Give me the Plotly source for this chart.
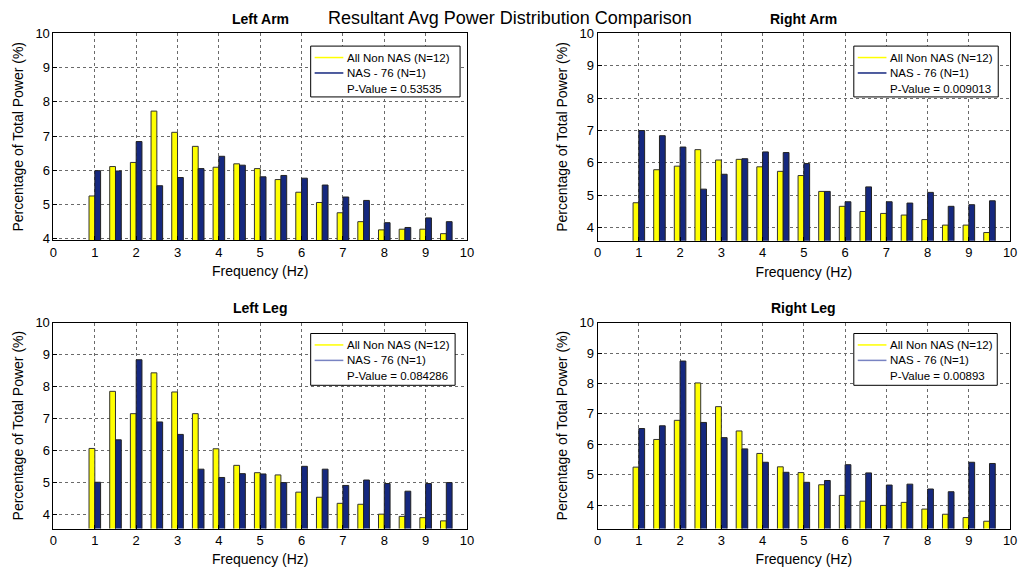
import plotly.graph_objects as go

# Frequency bins (Hz)
freq = [1.0, 1.5, 2.0, 2.5, 3.0, 3.5, 4.0, 4.5, 5.0, 5.5, 6.0, 6.5, 7.0, 7.5, 8.0, 8.5, 9.0, 9.5]

# Percentage of total power per bin: non-NAS average vs. NAS subject 76
left_arm_non_nas = [5.25, 6.11, 6.23, 7.73, 7.11, 6.70, 6.09, 6.19, 6.05, 5.73, 5.36, 5.06, 4.76, 4.50, 4.26, 4.28, 4.28, 4.15]
left_arm_nas = [5.99, 5.98, 6.84, 5.55, 5.79, 6.05, 6.41, 6.15, 5.81, 5.85, 5.77, 5.57, 5.22, 5.12, 4.47, 4.33, 4.61, 4.50]

right_arm_non_nas = [4.77, 5.79, 5.90, 6.41, 6.09, 6.11, 5.88, 5.74, 5.61, 5.12, 4.66, 4.50, 4.44, 4.39, 4.25, 4.08, 4.08, 3.85]
right_arm_nas = [7.00, 6.84, 6.49, 5.19, 5.65, 6.13, 6.34, 6.32, 5.98, 5.12, 4.80, 5.26, 4.80, 4.76, 5.09, 4.66, 4.71, 4.83]

left_leg_non_nas = [6.06, 7.85, 7.15, 8.43, 7.83, 7.15, 6.05, 5.53, 5.30, 5.23, 4.69, 4.53, 4.34, 4.31, 4.00, 3.93, 3.89, 3.79]
left_leg_nas = [5.00, 6.33, 8.84, 6.89, 6.50, 5.41, 5.15, 5.27, 5.26, 4.99, 5.50, 5.41, 4.90, 5.07, 4.96, 4.72, 4.96, 4.99]

right_leg_non_nas = [5.25, 6.16, 6.79, 8.02, 7.24, 6.44, 5.70, 5.26, 5.07, 4.67, 4.32, 4.13, 3.99, 4.09, 3.87, 3.70, 3.59, 3.47]
right_leg_nas = [6.52, 6.61, 8.74, 6.72, 6.22, 5.85, 5.41, 5.08, 4.75, 4.81, 5.33, 5.06, 4.66, 4.69, 4.53, 4.44, 5.41, 5.37]

panel_titles = ["Left Arm", "Right Arm", "Left Leg", "Right Leg"]
p_values = ["0.53535", "0.009013", "0.084286", "0.00893"]
series_names = ["All Non NAS (N=12)", "NAS - 76 (N=1)"]
y_lower = [3.96, 3.6, 3.55, 3.23]
x_ticks = list(range(0, 11))
y_ticks = list(range(4, 11))

panels = [
    (left_arm_non_nas, left_arm_nas),
    (right_arm_non_nas, right_arm_nas),
    (left_leg_non_nas, left_leg_nas),
    (right_leg_non_nas, right_leg_nas),
]

W, H = 1028, 579
YELLOW = "#FFFF00"
NAVY = "#15287F"
FONT = "Liberation Sans, Arial, sans-serif"

# pixel boxes of each axes: (left, right, top, bottom)
boxes = [(50, 468, 27, 238.5), (600, 1017, 27, 239), (50, 468, 323, 533.5), (600, 1017, 323, 533.5)]
# pixel boxes of each legend: (left, right, top, bottom)
legend_boxes = [(310, 461, 40, 92), (859, 1005, 40, 92), (310, 456, 334, 387), (859, 1004, 334, 387)]
legend_line_colors = [NAVY, NAVY, "#7883C2", "#7883C2"]


def px(x):
    return x / W


def py(y):
    return 1 - y / H


fig = go.Figure()
layout = {}
annotations = []
shapes = []

for i, ((non_nas, nas), title) in enumerate(zip(panels, panel_titles)):
    n = "" if i == 0 else str(i + 1)
    xa, ya = "x" + n, "y" + n
    fig.add_trace(go.Bar(x=freq, y=non_nas, width=0.14, offset=-0.14, xaxis=xa, yaxis=ya,
                         name=series_names[0],
                         marker=dict(color=YELLOW, line=dict(color="#333333", width=1)),
                         showlegend=False, hoverinfo="x+y"))
    fig.add_trace(go.Bar(x=freq, y=nas, width=0.14, offset=0.0, xaxis=xa, yaxis=ya,
                         name=series_names[1],
                         marker=dict(color=NAVY, line=dict(color="#222222", width=1)),
                         showlegend=False, hoverinfo="x+y"))

    l, r, t, b = boxes[i]
    axis_common = dict(showline=True, linecolor="#000000", linewidth=1, mirror=True,
                       ticks="inside", ticklen=4, tickcolor="#000000",
                       showgrid=True, gridcolor="#6a6a6a", griddash="dot", gridwidth=1,
                       zeroline=False, tickfont=dict(family=FONT, size=13, color="#000000"))
    layout["xaxis" + n] = dict(domain=[px(l), px(r)], anchor=ya, range=[0, 10], tickvals=x_ticks,
                               title=dict(text="Frequency (Hz)", font=dict(family=FONT, size=14, color="#000"), standoff=7),
                               **axis_common)
    layout["yaxis" + n] = dict(domain=[py(b), py(t)], anchor=xa, range=[y_lower[i], 10], tickvals=y_ticks,
                               title=dict(text="Percentage of Total Power (%)", font=dict(family=FONT, size=14, color="#000"), standoff=8),
                               **axis_common)

    # legend box drawn in paper space
    bl, br, bt, bb = legend_boxes[i]
    shapes.append(dict(type="rect", xref="paper", yref="paper", x0=px(bl), x1=px(br), y0=py(bb), y1=py(bt),
                       line=dict(color="#000000", width=1), fillcolor="#FFFFFF", layer="above"))
    rows = [bt + 11.7, bt + 27.5, bt + 43.5]
    for row_y, color in zip(rows[:2], [YELLOW, legend_line_colors[i]]):
        shapes.append(dict(type="line", xref="paper", yref="paper", x0=px(bl + 4), x1=px(bl + 33),
                           y0=py(row_y), y1=py(row_y), line=dict(color=color, width=1.5), layer="above"))
    for row_y, txt in zip(rows, series_names + ["P-Value = " + p_values[i]]):
        annotations.append(dict(text=txt, x=px(bl + 35), y=py(row_y), xref="paper", yref="paper",
                                xanchor="left", yanchor="middle", showarrow=False,
                                font=dict(family=FONT, size=11.5, color="#000")))

    annotations.append(dict(text="<b>" + title + "</b>", x=px((l + r) / 2), y=py(t - 5),
                            xref="paper", yref="paper", xanchor="center", yanchor="bottom", showarrow=False,
                            font=dict(family=FONT, size=14, color="#000")))

annotations.append(dict(text="Resultant Avg Power Distribution Comparison", x=px(511), y=py(11.5),
                        xref="paper", yref="paper", xanchor="center", yanchor="middle", showarrow=False,
                        font=dict(family=FONT, size=18, color="#000")))

fig.update_layout(**layout)
fig.update_layout(width=W, height=H, margin=dict(l=0, r=0, t=0, b=0),
                  paper_bgcolor="#FFFFFF", plot_bgcolor="#FFFFFF", barmode="overlay",
                  annotations=annotations, shapes=shapes, font=dict(family=FONT), showlegend=False)

fig.write_html("out.html")
